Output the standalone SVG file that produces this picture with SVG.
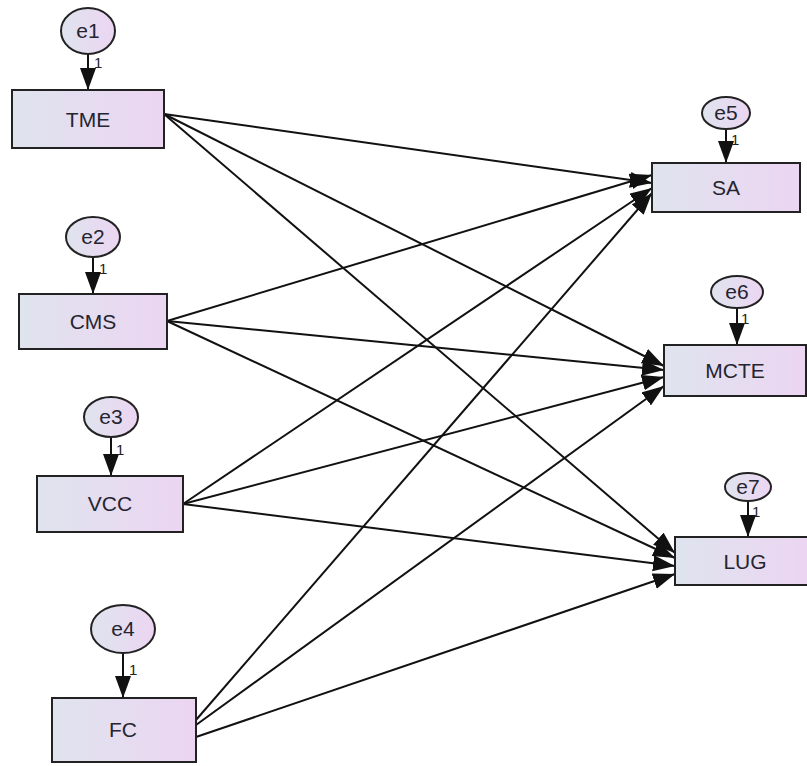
<svg xmlns="http://www.w3.org/2000/svg" width="807" height="766" viewBox="0 0 807 766">
<defs>
<linearGradient id="g" x1="0" y1="0" x2="1" y2="0">
<stop offset="0" stop-color="#dfe4ee"/>
<stop offset="1" stop-color="#ecd5f2"/>
</linearGradient>
<marker id="ah" markerUnits="userSpaceOnUse" markerWidth="24" markerHeight="18" refX="22" refY="8" orient="auto">
<path d="M0,0 L22,8 L0,16 z" fill="#111"/>
</marker>
</defs>
<style>
rect.box{fill:url(#g);stroke:#222;stroke-width:2}
ellipse.err{fill:url(#g);stroke:#222;stroke-width:2}
.lbl{font-family:"Liberation Sans",Arial,sans-serif;font-size:21px;fill:#252530;text-anchor:middle}
.elbl{font-family:"Liberation Sans",Arial,sans-serif;font-size:21px;fill:#252530;text-anchor:middle}
.one{font-family:"Liberation Sans",Arial,sans-serif;font-size:15px;fill:#222}
line.c{stroke:#111;stroke-width:2;marker-end:url(#ah)}
</style>
<rect width="807" height="766" fill="#fff"/>
<g id="connectors">
<line class="c" x1="88" y1="54" x2="88" y2="90"/>
<line class="c" x1="93" y1="257" x2="93" y2="294"/>
<line class="c" x1="111" y1="437" x2="111" y2="476"/>
<line class="c" x1="123" y1="653" x2="123" y2="698"/>
<line class="c" x1="726" y1="129" x2="726" y2="163"/>
<line class="c" x1="737" y1="308" x2="737" y2="345"/>
<line class="c" x1="748" y1="501" x2="748" y2="537"/>
<line class="c" x1="164" y1="114" x2="652" y2="183"/>
<line class="c" x1="164" y1="114" x2="664" y2="366"/>
<line class="c" x1="164" y1="114" x2="675" y2="553"/>
<line class="c" x1="167" y1="321" x2="652" y2="175"/>
<line class="c" x1="167" y1="321" x2="664" y2="370"/>
<line class="c" x1="167" y1="321" x2="675" y2="558"/>
<line class="c" x1="183" y1="504" x2="652" y2="188"/>
<line class="c" x1="183" y1="504" x2="664" y2="377"/>
<line class="c" x1="183" y1="504" x2="675" y2="566"/>
<line class="c" x1="196" y1="720" x2="652" y2="193"/>
<line class="c" x1="196" y1="725" x2="664" y2="386"/>
<line class="c" x1="196" y1="737" x2="675" y2="574"/>
<text class="one" x="94" y="68">1</text>
<text class="one" x="99" y="274">1</text>
<text class="one" x="116" y="455">1</text>
<text class="one" x="129" y="675">1</text>
<text class="one" x="731" y="145">1</text>
<text class="one" x="741" y="324">1</text>
<text class="one" x="752" y="517">1</text>
</g>
<g id="e1"><ellipse class="err" cx="88" cy="31" rx="27" ry="23"/><text class="elbl" x="88" y="38">e1</text></g>
<g id="e2"><ellipse class="err" cx="93" cy="237" rx="27" ry="20"/><text class="elbl" x="93" y="244">e2</text></g>
<g id="e3"><ellipse class="err" cx="111" cy="417" rx="27" ry="20"/><text class="elbl" x="111" y="424">e3</text></g>
<g id="e4"><ellipse class="err" cx="123" cy="629" rx="32" ry="24"/><text class="elbl" x="123" y="636">e4</text></g>
<g id="e5"><ellipse class="err" cx="726" cy="113" rx="24" ry="16"/><text class="elbl" x="726" y="120">e5</text></g>
<g id="e6"><ellipse class="err" cx="737" cy="292" rx="26" ry="16"/><text class="elbl" x="737" y="299">e6</text></g>
<g id="e7"><ellipse class="err" cx="748" cy="487" rx="23" ry="14"/><text class="elbl" x="748" y="494">e7</text></g>
<g id="TME"><rect class="box" x="12" y="90" width="152" height="58"/><text class="lbl" x="88" y="127">TME</text></g>
<g id="CMS"><rect class="box" x="19" y="294" width="148" height="55"/><text class="lbl" x="93" y="329">CMS</text></g>
<g id="VCC"><rect class="box" x="37" y="476" width="146" height="56"/><text class="lbl" x="110" y="511">VCC</text></g>
<g id="FC"><rect class="box" x="52" y="698" width="144" height="64"/><text class="lbl" x="123" y="737">FC</text></g>
<g id="SA"><rect class="box" x="652" y="163" width="148" height="49"/><text class="lbl" x="726" y="195">SA</text></g>
<g id="MCTE"><rect class="box" x="664" y="345" width="142" height="51"/><text class="lbl" x="735" y="378">MCTE</text></g>
<g id="LUG"><rect class="box" x="675" y="537" width="134" height="48"/><text class="lbl" x="745" y="569">LUG</text></g>
</svg>
